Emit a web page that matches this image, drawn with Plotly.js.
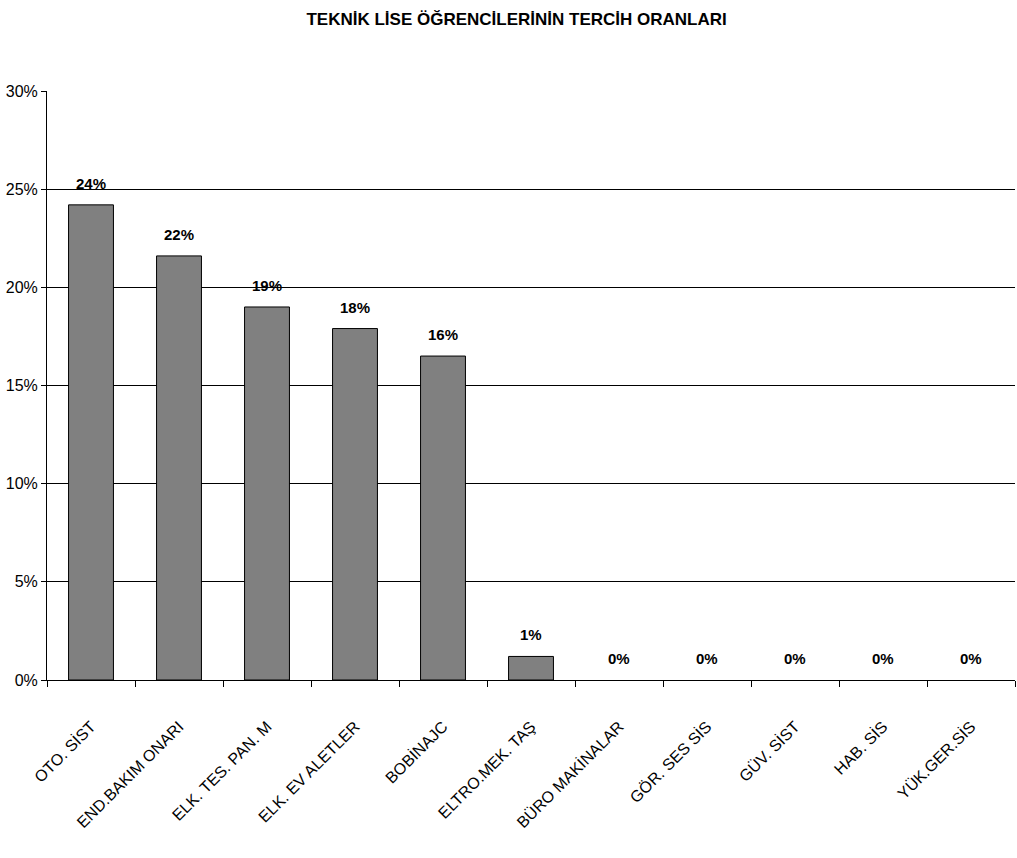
<!DOCTYPE html>
<html><head><meta charset="utf-8">
<script src="https://cdn.plot.ly/plotly-3.0.1.min.js"></script>
<style>html,body{margin:0;padding:0;background:#fff;}</style>
</head><body>
<div id="chart" style="width:1017px;height:858px;"></div>
<script>
const categories = ["OTO. SİST","END.BAKIM ONARI","ELK. TES. PAN. M","ELK. EV ALETLER","BOBİNAJC","ELTRO.MEK. TAŞ","BÜRO MAKİNALAR","GÖR. SES SİS","GÜV. SİST","HAB. SİS","YÜK.GER.SİS"];
const values = [24.2, 21.6, 19.0, 17.9, 16.5, 1.2, 0, 0, 0, 0, 0];
const labels = ["24%","22%","19%","18%","16%","1%","0%","0%","0%","0%","0%"];
const FONT = "'Liberation Sans', Arial, sans-serif";

const annotations = categories.map((c, i) => ({
  x: c, y: values[i], xref: 'x', yref: 'y', text: '<b>' + labels[i] + '</b>',
  showarrow: false, yanchor: 'bottom', yshift: 11,
  font: {family: FONT, size: 15, color: '#000'}
}));

Plotly.newPlot('chart', [{
  type: 'bar', x: categories, y: values,
  marker: {color: '#808080', line: {color: '#000', width: values.map(v => v > 0 ? 1 : 0)}},
  hoverinfo: 'none'
}], {
  width: 1017, height: 858,
  margin: {l: 47, r: 2, t: 91, b: 178},
  paper_bgcolor: '#fff', plot_bgcolor: '#fff',
  bargap: 0.49,
  showlegend: false,
  title: {text: '<b>TEKNİK LİSE ÖĞRENCİLERİNİN TERCİH ORANLARI</b>', x: 0.508, xanchor: 'center', y: 0.978, yanchor: 'middle',
    font: {family: FONT, size: 17, color: '#000'}},
  xaxis: {type: 'category', tickangle: -45, tickson: 'boundaries', ticks: 'outside', ticklen: 6, tickcolor: '#000',
    showline: true, linecolor: '#000', linewidth: 1, showgrid: false, ticklabelstandoff: 30,
    tickfont: {family: FONT, size: 16, color: '#000'}},
  yaxis: {range: [0, 30], dtick: 5, ticksuffix: '%', ticks: 'outside', ticklen: 5, tickcolor: '#000',
    showline: true, linecolor: '#000', linewidth: 1, showgrid: true, gridcolor: '#000', gridwidth: 1, zeroline: false,
    tickfont: {family: FONT, size: 16, color: '#000'}},
  annotations: annotations,
  font: {family: FONT}
}, {staticPlot: true});
</script>
</body></html>
